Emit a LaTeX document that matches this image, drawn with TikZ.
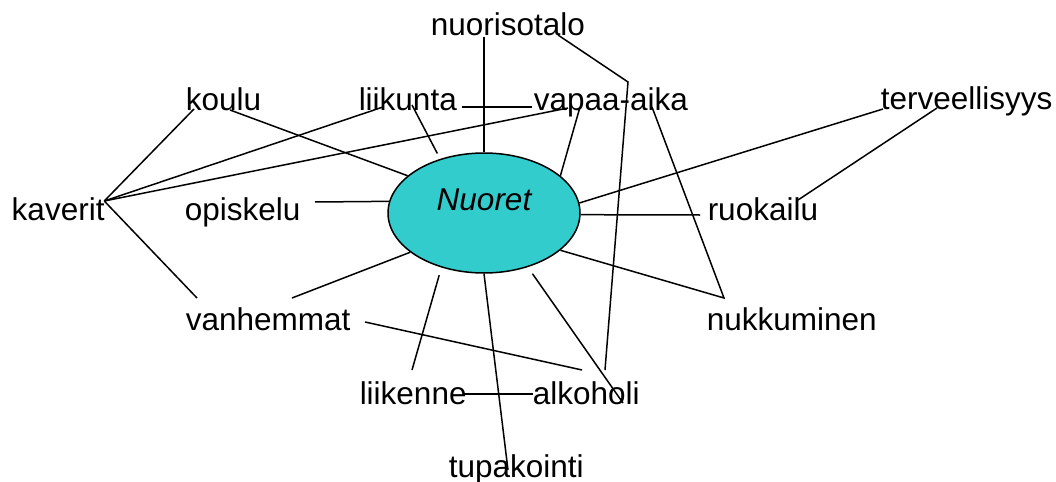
\documentclass[tikz,border=0pt]{standalone}
\usepackage{fontspec}
\setmainfont{Liberation Sans}
\usetikzlibrary{shapes.geometric,calc}
\definecolor{turkoosi}{RGB}{51,204,204}

\begin{document}
\begin{tikzpicture}[x=0.5pt,y=-0.5pt,line width=0.75pt,
  teksti/.style={anchor=base west,inner sep=0pt,font=\fontsize{15.75}{18}\selectfont},
  pallo/.style={ellipse,draw,fill=turkoosi,minimum width=96pt,minimum height=60pt,inner sep=0pt}]
  \useasboundingbox (0,0) rectangle (1056,482);
  \node[pallo,label={[font=\fontsize{15.75}{18}\selectfont\itshape,yshift=6.5pt]center:Nuoret}] (0) at (484,213) {};
  \node[teksti] (1) at (430,35) {nuorisotalo};
  \node[teksti] (2) at (185,110) {koulu};
  \node[teksti] (3) at (358,110) {liikunta};
  \node[teksti] (4) at (533,110) {vapaa-aika};
  \node[teksti] (5) at (880,109) {terveellisyys};
  \node[teksti] (6) at (11,220) {kaverit};
  \node[teksti] (7) at (184,220) {opiskelu};
  \node[teksti] (8) at (707,220) {ruokailu};
  \node[teksti] (9) at (185,330) {vanhemmat};
  \node[teksti] (10) at (706,330) {nukkuminen};
  \node[teksti] (11) at (359,404) {liikenne};
  \node[teksti] (12) at (532,404) {alkoholi};
  \node[teksti] (13) at (448,477) {tupakointi};
  \coordinate (mutka) at (628,82);
  \path
    ($(6.base east)+(-1,-19)$) edge ($(2.base west)+(9,-1)$)
                               edge ($(3.base west)+(25,-3)$)
                               edge ($(4.base west)+(35,-2)$)
                               edge ($(9.base west)+(12,-32)$)
    ($(2.base west)+(45,0)$) edge (0.154)
    ($(3.base west)+(54,-5)$) edge[shorten >=3pt] (0.129)
    ($(3.base east)+(4,-3)$) edge ($(4.base west)+(-1,-3)$)
    ($(1.base west)+(54,2)$) edge (0.north)
    ($(4.base west)+(47,-3)$) edge (0.26)
    ($(5.base west)+(3,0)$) edge (0.6)
    ($(5.base west)+(57,-1)$) edge ($(8.base west)+(91,-20)$)
    ($(8.base west)+(-7,-5)$) edge (0.359)
    ($(7.base west)+(131,-18)$) edge (0.173)
    ($(9.base west)+(107,-32)$) edge (0.208)
    ($(9.base east)+(14,-8)$) edge ($(12.base west)+(50,-34)$)
    ($(11.base west)+(53,-34)$) edge[shorten >=4pt] (0.232)
    ($(11.base west)+(104,-10)$) edge ($(12.base west)+(1,-10)$)
    ($(13.base west)+(60,-7)$) edge (0.south)
    ($(12.base west)+(91,-1)$) edge[shorten >=4pt] (0.309);
  \draw ($(1.base west)+(128,0)$) -- (mutka) -- ($(12.base west)+(73,-34)$);
  \draw ($(4.base west)+(119,-3)$) -- ($(10.base west)+(18,-32)$) -- (0.334);
\end{tikzpicture}
\end{document}
